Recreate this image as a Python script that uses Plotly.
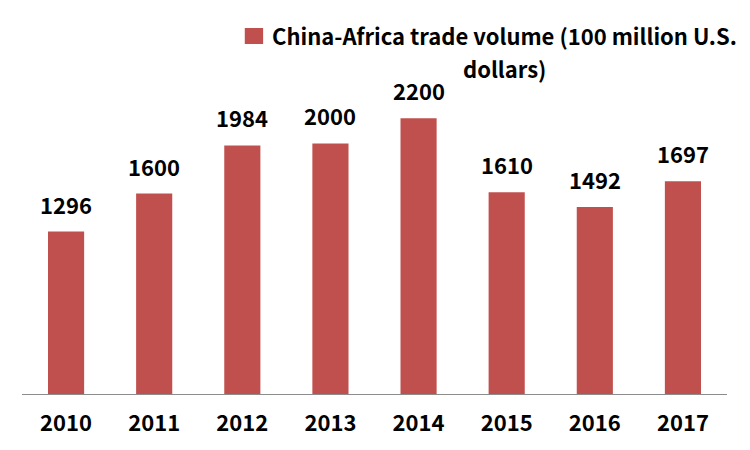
import plotly.graph_objects as go

years = ["2010", "2011", "2012", "2013", "2014", "2015", "2016", "2017"]
values = [1296, 1600, 1984, 2000, 2200, 1610, 1492, 1697]
series_lines = ["China-Africa trade volume (100 million U.S.", "dollars)"]

BAR = "#C0504D"
NUMFONT = "Noto Sans CJK KR"

pos = list(range(len(years)))

fig = go.Figure()
fig.add_trace(go.Bar(x=pos, y=values, marker=dict(color=BAR, line=dict(width=0)),
                     width=0.41, showlegend=False, hovertext=years, hoverinfo="text+y"))

for x, v in zip(pos, values):
    fig.add_annotation(x=x, y=v, text=f"<b>{v}</b>", showarrow=False,
                       yanchor="middle", yshift=28,
                       font=dict(family=NUMFONT, size=22, color="#000000"))

# custom legend
PH = 354.0
def py(px):
    return 1 + (40 - px) / PH

for i, line in enumerate(series_lines):
    fig.add_annotation(xref="paper", yref="paper", x=0.685, y=py(35 + 33 * i), text=f"<b>{line}</b>",
                       showarrow=False, xanchor="center", yanchor="middle",
                       font=dict(family="Noto Sans CJK SC", size=22, color="#000000"))
fig.add_shape(type="rect", xref="paper", yref="paper", x0=0.316, x1=0.342, y0=py(44), y1=py(28),
              fillcolor=BAR, line=dict(width=0))

fig.update_layout(
    width=750, height=450,
    margin=dict(l=22, r=23, t=40, b=56),
    paper_bgcolor="white", plot_bgcolor="white",
    xaxis=dict(range=[-0.5, len(years) - 0.5], showline=True, linecolor="#8C8C8C", linewidth=1,
               ticks="", tickfont=dict(family=NUMFONT, size=22, color="#000000"),
               ticklabelstandoff=10, showgrid=False, zeroline=False,
               tickvals=pos, ticktext=[f"<b>{y}</b>" for y in years]),
    yaxis=dict(visible=False, range=[0, 2825], showgrid=False, zeroline=False),
)

fig.write_html("out.html")
